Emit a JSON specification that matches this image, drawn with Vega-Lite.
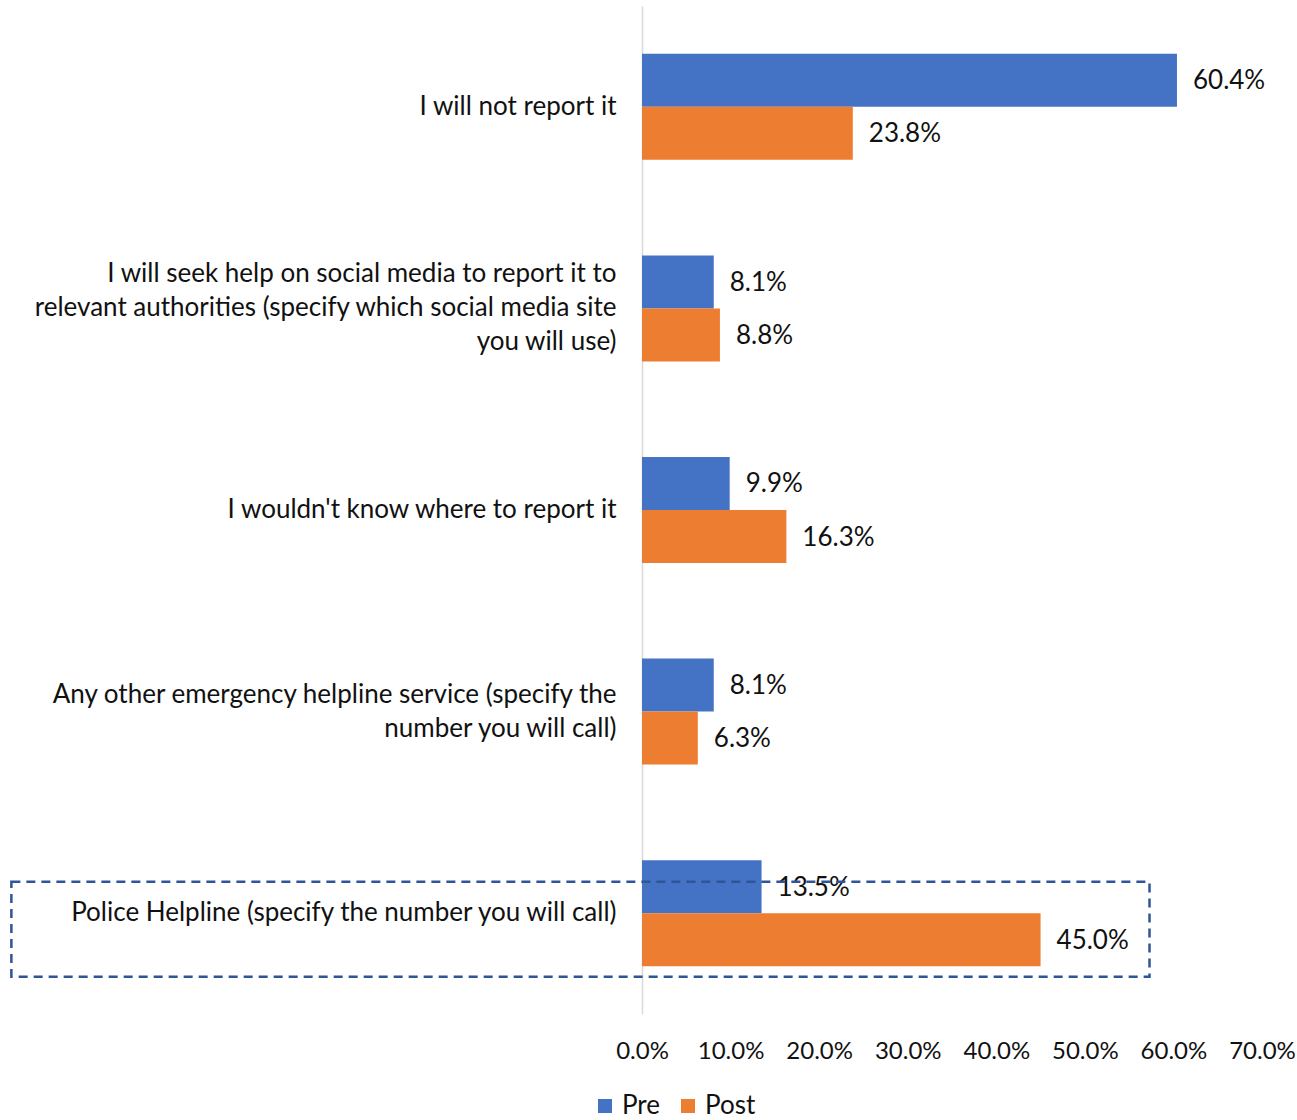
{
  "$schema": "https://vega.github.io/schema/vega-lite/v6.json",
  "autosize": "none",
  "width": 620,
  "height": 1008,
  "padding": {"left": 642, "top": 6, "right": 35, "bottom": 106},
  "background": "white",
  "config": {
    "view": {"stroke": null},
    "font": "Lato",
    "axis": {"labelFont": "Lato", "labelColor": "#111111", "labelFontSize": 26, "grid": false, "ticks": false, "title": null},
    "legend": {"labelFont": "Lato", "labelFontSize": 26, "labelColor": "#111111"}
  },
  "datasets": {
    "bars": [
      {"category": "I will not report it", "series": "Pre", "value": 60.4},
      {"category": "I will not report it", "series": "Post", "value": 23.8},
      {"category": "I will seek help on social media to report it to|relevant authorities (specify which social media site|you will use)", "series": "Pre", "value": 8.1},
      {"category": "I will seek help on social media to report it to|relevant authorities (specify which social media site|you will use)", "series": "Post", "value": 8.8},
      {"category": "I wouldn't know where to report it", "series": "Pre", "value": 9.9},
      {"category": "I wouldn't know where to report it", "series": "Post", "value": 16.3},
      {"category": "Any other emergency helpline service (specify the|number you will call)", "series": "Pre", "value": 8.1},
      {"category": "Any other emergency helpline service (specify the|number you will call)", "series": "Post", "value": 6.3},
      {"category": "Police Helpline (specify the number you will call)", "series": "Pre", "value": 13.5},
      {"category": "Police Helpline (specify the number you will call)", "series": "Post", "value": 45.0}
    ],
    "box": [
      {"category": "Police Helpline (specify the number you will call)", "from": -71.2, "to": 57.3}
    ]
  },
  "layer": [
    {
      "data": {"name": "bars"},
      "mark": {"type": "bar"},
      "encoding": {
        "y": {
          "field": "category", "type": "nominal", "sort": null,
          "scale": {"paddingInner": 0.474, "paddingOuter": 0.237},
          "axis": {
            "labelExpr": "split(datum.label, '|')",
            "labelLineHeight": 34,
            "labelPadding": 26,
            "labelLimit": 700,
            "labelOffset": {"condition": [
              {"test": "length(split(datum.value, '|')) == 3", "value": -34},
              {"test": "length(split(datum.value, '|')) == 2", "value": -17}
            ], "value": 0},
            "domain": true,
            "domainColor": "#D9D9D9",
            "domainWidth": 1.5
          }
        },
        "yOffset": {"field": "series", "type": "nominal", "sort": ["Pre", "Post"]},
        "x": {
          "field": "value", "type": "quantitative",
          "scale": {"domain": [0, 70], "nice": false},
          "axis": {
            "values": [0, 10, 20, 30, 40, 50, 60, 70],
            "labelExpr": "format(datum.value, '.1f') + '%'",
            "labelFontSize": 24,
            "domain": false,
            "labelPadding": 25,
            "labelFlush": false
          }
        },
        "color": {
          "field": "series", "type": "nominal", "sort": ["Pre", "Post"],
          "scale": {"domain": ["Pre", "Post"], "range": ["#4472C4", "#ED7D31"]},
          "legend": {
            "title": null, "orient": "none", "direction": "horizontal",
            "legendX": -50, "legendY": 1087,
            "symbolType": "square", "symbolSize": 196, "symbolStrokeWidth": 0,
            "columnPadding": 14, "labelOffset": 4
          }
        }
      }
    },
    {
      "data": {"name": "bars"},
      "transform": [{"calculate": "format(datum.value, '.1f') + '%'", "as": "label"}],
      "mark": {"type": "text", "align": "left", "baseline": "middle", "dx": 16, "dy": 1, "fontSize": 26, "color": "#111111", "font": "Lato"},
      "encoding": {
        "y": {"field": "category", "type": "nominal", "sort": null},
        "yOffset": {"field": "series", "type": "nominal", "sort": ["Pre", "Post"]},
        "x": {"field": "value", "type": "quantitative"},
        "text": {"field": "label", "type": "nominal"}
      }
    },
    {
      "data": {"name": "box"},
      "mark": {"type": "bar", "filled": false, "stroke": "#2F5597", "strokeWidth": 2.5, "strokeDash": [9, 6], "height": 95, "yOffset": 16, "clip": false},
      "encoding": {
        "y": {"field": "category", "type": "nominal", "sort": null},
        "x": {"field": "from", "type": "quantitative"},
        "x2": {"field": "to"}
      }
    }
  ]
}
